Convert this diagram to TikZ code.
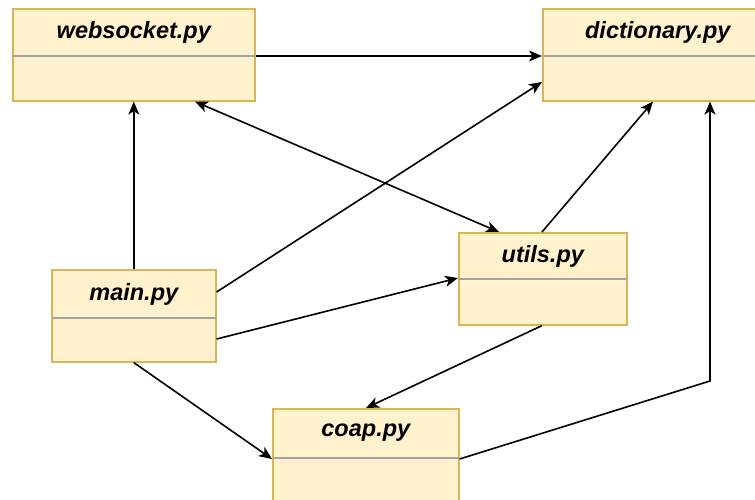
\documentclass[tikz,border=0pt]{standalone}
\usepackage{fontspec}
\setmainfont{Liberation Sans}
\usetikzlibrary{arrows.meta,calc}
\definecolor{boxfill}{HTML}{FFF2CC}
\definecolor{boxline}{HTML}{D6B656}
\definecolor{sepline}{HTML}{A3A3A3}

\begin{document}
\begin{tikzpicture}[x=1pt,y=-1pt,
  cls/.style={draw=boxline, fill=boxfill, line width=1.6pt, rectangle,
    inner sep=0pt, anchor=north west},
  title/.style={font=\fontsize{23.5}{26}\selectfont\bfseries\itshape, inner sep=0pt},
  sep/.style={draw=sepline, line width=1.5pt},
  tip/.tip={Stealth[length=13pt,width=11pt,inset=3.5pt]},
  link/.style={line width=1.6pt, -tip}]
\useasboundingbox (0,0) rectangle (755,500);
\clip (0,0) rectangle (755,500);

% class boxes: outer frame, header title and header separator
\node[cls, minimum width=242, minimum height=92] (ws) at (12,8) {};
\node[title] at ($(ws.north)+(0,24)$) {websocket.py};
\draw[sep] ($(ws.north west)+(0.8,48)$) -- ($(ws.north east)+(-0.8,48)$);

\node[cls, minimum width=230, minimum height=92] (dict) at (542,8) {};
\node[title] at ($(dict.north)+(0,24)$) {dictionary.py};
\draw[sep] ($(dict.north west)+(0.8,48)$) -- ($(dict.north east)+(-0.8,48)$);

\node[cls, minimum width=164, minimum height=92] (main) at (51,269) {};
\node[title] at ($(main.north)+(0,25)$) {main.py};
\draw[sep] ($(main.north west)+(0.8,49)$) -- ($(main.north east)+(-0.8,49)$);

\node[cls, minimum width=168, minimum height=92] (utils) at (458,232) {};
\node[title] at ($(utils.north)+(0,24)$) {utils.py};
\draw[sep] ($(utils.north west)+(0.8,47)$) -- ($(utils.north east)+(-0.8,47)$);

\node[cls, minimum width=186, minimum height=92] (coap) at (272,408) {};
\node[title] at ($(coap.north)+(0,25)$) {coap.py};
\draw[sep] ($(coap.north west)+(0.8,50)$) -- ($(coap.north east)+(-0.8,50)$);

% dependencies
\draw[link] ($(ws.north east)+(0,48)$) -- ($(dict.north west)+(0,48)$);
\draw[link] (main.north) -- (main.north |- ws.south);
\draw[link, tip-tip] ($(ws.south west)+(183,0)$) -- ($(utils.north west)+(41,0)$);
\draw[link] ($(main.north east)+(0,23)$) -- ($(dict.north west)+(0,74)$);
\draw[link] ($(main.north east)+(0,70)$) -- ($(utils.north west)+(0,46)$);
\draw[link] ($(utils.north west)+(84,0)$) -- ($(dict.south west)+(111,0)$);
\draw[link] ($(utils.south west)+(84,0)$) -- ($(coap.north west)+(94,0)$);
\draw[link] (main.south) -- ($(coap.north west)+(0,51)$);
\coordinate (bend) at (710,381);
\draw[link] ($(coap.north east)+(0,51)$) -- (bend) -- (bend |- dict.south);
\end{tikzpicture}
\end{document}
